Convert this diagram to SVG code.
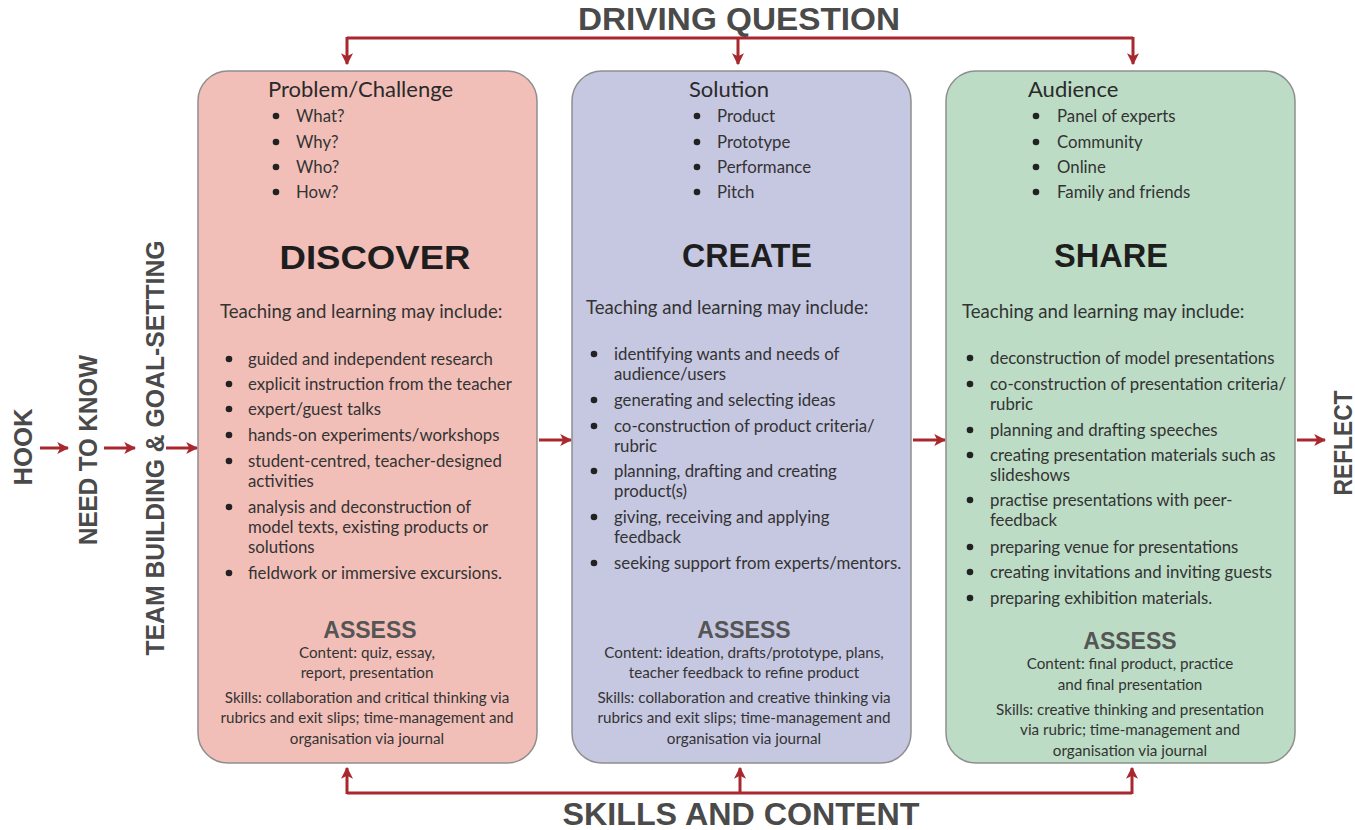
<svg xmlns="http://www.w3.org/2000/svg" width="1355" height="830" viewBox="0 0 1355 830">
  <style>
    .box { stroke: #8e8e8e; stroke-width: 1.5; }
    .discover { fill: #f2bfb8; }
    .create { fill: #c6c7e1; }
    .share { fill: #bcdcc5; }
    .body { font-family: Lato, "Liberation Sans", sans-serif; font-size: 16.8px; fill: #333; }
    .head { font-family: Lato, "Liberation Sans", sans-serif; font-size: 22px; fill: #2a2a2a; }
    .lead { font-family: Lato, "Liberation Sans", sans-serif; font-size: 18.6px; fill: #333; }
    .small { font-family: Lato, "Liberation Sans", sans-serif; font-size: 15.2px; fill: #333; text-anchor: middle; }
    .phase { font-family: "Liberation Sans", Arial, sans-serif; font-weight: bold; font-size: 33px; fill: #1e1e1e; text-anchor: middle; }
    .assess { font-family: "Liberation Sans", Arial, sans-serif; font-weight: bold; font-size: 23px; fill: #555; text-anchor: middle; }
    .banner { font-family: "Liberation Sans", Arial, sans-serif; font-weight: bold; font-size: 31px; fill: #4a4a4a; text-anchor: middle; }
    .stage { font-family: "Liberation Sans", Arial, sans-serif; font-weight: bold; font-size: 25px; fill: #4a4a4a; text-anchor: middle; }
    .dot { fill: #222; }
    .wire { fill: none; stroke: #a8282e; stroke-width: 3; }
  </style>
  <defs>
    <marker id="arrow" viewBox="0 0 10 10" refX="9" refY="5" markerWidth="4" markerHeight="4" orient="auto" markerUnits="strokeWidth">
      <path d="M0,0 L10,5 L0,10 L2.5,5 Z" fill="#a8282e"/>
    </marker>
  </defs>

  <rect width="1355" height="830" fill="#ffffff"/>

  <!-- banners -->
  <text class="banner" x="739" y="30" textLength="322" lengthAdjust="spacingAndGlyphs">DRIVING QUESTION</text>
  <text class="banner" x="741" y="825" textLength="357" lengthAdjust="spacingAndGlyphs">SKILLS AND CONTENT</text>

  <!-- stage labels, rotated -->
  <text class="stage" transform="translate(32,447) rotate(-90)" textLength="77" lengthAdjust="spacingAndGlyphs">HOOK</text>
  <text class="stage" transform="translate(97,450) rotate(-90)" textLength="190" lengthAdjust="spacingAndGlyphs">NEED TO KNOW</text>
  <text class="stage" transform="translate(164,448) rotate(-90)" textLength="415" lengthAdjust="spacingAndGlyphs">TEAM BUILDING &amp; GOAL-SETTING</text>
  <text class="stage" transform="translate(1352,443) rotate(-90)" textLength="105" lengthAdjust="spacingAndGlyphs">REFLECT</text>

  <!-- connectors -->
  <g id="connectors">
    <path class="wire" d="M347,38 H1133"/>
    <path class="wire" d="M347,37 V64" marker-end="url(#arrow)"/>
    <path class="wire" d="M738,37 V64" marker-end="url(#arrow)"/>
    <path class="wire" d="M1133,37 V64" marker-end="url(#arrow)"/>
    <path class="wire" d="M347,793 H1132"/>
    <path class="wire" d="M347,794 V768" marker-end="url(#arrow)"/>
    <path class="wire" d="M740,794 V768" marker-end="url(#arrow)"/>
    <path class="wire" d="M1132,794 V768" marker-end="url(#arrow)"/>
    <path class="wire" d="M40,448 H68" marker-end="url(#arrow)"/>
    <path class="wire" d="M104,448 H135" marker-end="url(#arrow)"/>
    <path class="wire" d="M166,448 H197" marker-end="url(#arrow)"/>
    <path class="wire" d="M539,440 H571" marker-end="url(#arrow)"/>
    <path class="wire" d="M913,440 H945" marker-end="url(#arrow)"/>
    <path class="wire" d="M1297,440 H1325" marker-end="url(#arrow)"/>
  </g>

  <!-- DISCOVER -->
  <g id="discover">
    <rect class="box discover" x="198" y="71" width="339" height="692" rx="30"/>
    <text class="head" x="268" y="97">Problem/Challenge</text>
    <circle class="dot" cx="276" cy="116" r="3.3"/><text class="body" x="296" y="122">What?</text>
    <circle class="dot" cx="276" cy="142" r="3.3"/><text class="body" x="296" y="148">Why?</text>
    <circle class="dot" cx="276" cy="167" r="3.3"/><text class="body" x="296" y="173">Who?</text>
    <circle class="dot" cx="276" cy="192" r="3.3"/><text class="body" x="296" y="198">How?</text>
    <text class="phase" x="375" y="269" textLength="191" lengthAdjust="spacingAndGlyphs">DISCOVER</text>
    <text class="lead" x="220" y="318">Teaching and learning may include:</text>
    <circle class="dot" cx="229" cy="359" r="3.3"/><text class="body" x="248" y="365">guided and independent research</text>
    <circle class="dot" cx="229" cy="384" r="3.3"/><text class="body" x="248" y="390">explicit instruction from the teacher</text>
    <circle class="dot" cx="229" cy="409" r="3.3"/><text class="body" x="248" y="415">expert/guest talks</text>
    <circle class="dot" cx="229" cy="435" r="3.3"/><text class="body" x="248" y="441">hands-on experiments/workshops</text>
    <circle class="dot" cx="229" cy="461" r="3.3"/><text class="body" x="248" y="467">student-centred, teacher-designed</text>
    <text class="body" x="248" y="487">activities</text>
    <circle class="dot" cx="229" cy="507" r="3.3"/><text class="body" x="248" y="513">analysis and deconstruction of</text>
    <text class="body" x="248" y="533">model texts, existing products or</text>
    <text class="body" x="248" y="553">solutions</text>
    <circle class="dot" cx="229" cy="573" r="3.3"/><text class="body" x="248" y="579">fieldwork or immersive excursions.</text>
    <text class="assess" x="370" y="638">ASSESS</text>
    <text class="small" x="367" y="658">Content: quiz, essay,</text>
    <text class="small" x="367" y="678">report, presentation</text>
    <text class="small" x="367" y="703">Skills: collaboration and critical thinking via</text>
    <text class="small" x="367" y="723">rubrics and exit slips; time-management and</text>
    <text class="small" x="367" y="744">organisation via journal</text>
  </g>

  <!-- CREATE -->
  <g id="create">
    <rect class="box create" x="572" y="71" width="339" height="692" rx="30"/>
    <text class="head" x="689" y="97">Solution</text>
    <circle class="dot" cx="697" cy="116" r="3.3"/><text class="body" x="717" y="122">Product</text>
    <circle class="dot" cx="697" cy="142" r="3.3"/><text class="body" x="717" y="148">Prototype</text>
    <circle class="dot" cx="697" cy="167" r="3.3"/><text class="body" x="717" y="173">Performance</text>
    <circle class="dot" cx="697" cy="192" r="3.3"/><text class="body" x="717" y="198">Pitch</text>
    <text class="phase" x="747" y="267" textLength="130" lengthAdjust="spacingAndGlyphs">CREATE</text>
    <text class="lead" x="586" y="314">Teaching and learning may include:</text>
    <circle class="dot" cx="594" cy="354" r="3.3"/><text class="body" x="614" y="360">identifying wants and needs of</text>
    <text class="body" x="614" y="380">audience/users</text>
    <circle class="dot" cx="594" cy="400" r="3.3"/><text class="body" x="614" y="406">generating and selecting ideas</text>
    <circle class="dot" cx="594" cy="426" r="3.3"/><text class="body" x="614" y="432">co-construction of product criteria/</text>
    <text class="body" x="614" y="452">rubric</text>
    <circle class="dot" cx="594" cy="471" r="3.3"/><text class="body" x="614" y="477">planning, drafting and creating</text>
    <text class="body" x="614" y="497">product(s)</text>
    <circle class="dot" cx="594" cy="517" r="3.3"/><text class="body" x="614" y="523">giving, receiving and applying</text>
    <text class="body" x="614" y="543">feedback</text>
    <circle class="dot" cx="594" cy="563" r="3.3"/><text class="body" x="614" y="569">seeking support from experts/mentors.</text>
    <text class="assess" x="744" y="638">ASSESS</text>
    <text class="small" x="744" y="658">Content: ideation, drafts/prototype, plans,</text>
    <text class="small" x="744" y="678">teacher feedback to refine product</text>
    <text class="small" x="744" y="703">Skills: collaboration and creative thinking via</text>
    <text class="small" x="744" y="723">rubrics and exit slips; time-management and</text>
    <text class="small" x="744" y="744">organisation via journal</text>
  </g>

  <!-- SHARE -->
  <g id="share">
    <rect class="box share" x="946" y="71" width="349" height="692" rx="30"/>
    <text class="head" x="1028" y="97">Audience</text>
    <circle class="dot" cx="1036" cy="116" r="3.3"/><text class="body" x="1057" y="122">Panel of experts</text>
    <circle class="dot" cx="1036" cy="142" r="3.3"/><text class="body" x="1057" y="148">Community</text>
    <circle class="dot" cx="1036" cy="167" r="3.3"/><text class="body" x="1057" y="173">Online</text>
    <circle class="dot" cx="1036" cy="192" r="3.3"/><text class="body" x="1057" y="198">Family and friends</text>
    <text class="phase" x="1111" y="267" textLength="114" lengthAdjust="spacingAndGlyphs">SHARE</text>
    <text class="lead" x="962" y="318">Teaching and learning may include:</text>
    <circle class="dot" cx="970" cy="358" r="3.3"/><text class="body" x="990" y="364">deconstruction of model presentations</text>
    <circle class="dot" cx="970" cy="384" r="3.3"/><text class="body" x="990" y="390">co-construction of presentation criteria/</text>
    <text class="body" x="990" y="410">rubric</text>
    <circle class="dot" cx="970" cy="430" r="3.3"/><text class="body" x="990" y="436">planning and drafting speeches</text>
    <circle class="dot" cx="970" cy="455" r="3.3"/><text class="body" x="990" y="461">creating presentation materials such as</text>
    <text class="body" x="990" y="481">slideshows</text>
    <circle class="dot" cx="970" cy="500" r="3.3"/><text class="body" x="990" y="506">practise presentations with peer-</text>
    <text class="body" x="990" y="526">feedback</text>
    <circle class="dot" cx="970" cy="547" r="3.3"/><text class="body" x="990" y="553">preparing venue for presentations</text>
    <circle class="dot" cx="970" cy="572" r="3.3"/><text class="body" x="990" y="578">creating invitations and inviting guests</text>
    <circle class="dot" cx="970" cy="598" r="3.3"/><text class="body" x="990" y="604">preparing exhibition materials.</text>
    <text class="assess" x="1130" y="649">ASSESS</text>
    <text class="small" x="1130" y="669">Content: final product, practice</text>
    <text class="small" x="1130" y="690">and final presentation</text>
    <text class="small" x="1130" y="715">Skills: creative thinking and presentation</text>
    <text class="small" x="1130" y="735">via rubric; time-management and</text>
    <text class="small" x="1130" y="756">organisation via journal</text>
  </g>
</svg>
